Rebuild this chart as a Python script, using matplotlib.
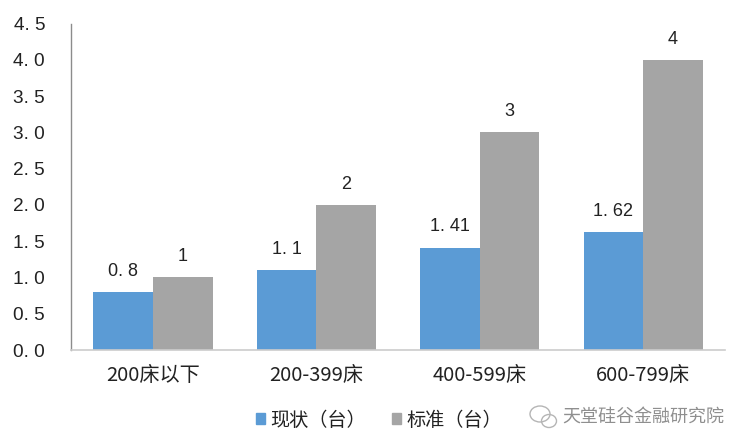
import matplotlib
matplotlib.use("Agg")
import matplotlib.pyplot as plt
from matplotlib.patches import Ellipse
import numpy as np

plt.rcParams['font.family'] = ['Noto Sans CJK SC', 'DejaVu Sans']

categories = ['200床以下', '200-399床', '400-599床', '600-799床']
current = [0.8, 1.1, 1.41, 1.62]
standard = [1, 2, 3, 4]
current_labels = ['0. 8', '1. 1', '1. 41', '1. 62']
standard_labels = ['1', '2', '3', '4']
yticks = [0.0, 0.5, 1.0, 1.5, 2.0, 2.5, 3.0, 3.5, 4.0, 4.5]
ytick_labels = ['0. 0', '0. 5', '1. 0', '1. 5', '2. 0', '2. 5', '3. 0', '3. 5', '4. 0', '4. 5']
series_names = ['现状（台）', '标准（台）']
watermark = '天堂硅谷金融研究院'

W, H = 748, 448
fig = plt.figure(figsize=(W/100, H/100), dpi=100)
ax = fig.add_axes([71.4/W, 1-350/H, 653.4/W, (350-23.6)/H])
x = np.arange(4)
bw = 0.365
ax.bar(x-bw/2, current, bw, color='#5b9bd5')
ax.bar(x+bw/2, standard, bw, color='#a5a5a5')
ax.set_xlim(-0.5, 3.5)
ax.set_ylim(0, 4.5)
latin = 'Liberation Sans'
for i in range(4):
    ax.text(x[i]-bw/2, current[i]+0.17, current_labels[i], ha='center', va='bottom',
            fontsize=13, color='#222222', fontfamily=latin)
    ax.text(x[i]+bw/2, standard[i]+0.17, standard_labels[i], ha='center', va='bottom',
            fontsize=13, color='#222222', fontfamily=latin)
ax.set_yticks(yticks)
ax.set_yticklabels(ytick_labels, fontsize=13.7, color='#222222', fontfamily=latin)
ax.set_xticks(x)
ax.set_xticklabels(categories, fontsize=14.5, color='#222222')
ax.tick_params(axis='y', length=0, pad=19)
ax.tick_params(axis='x', length=0, pad=11)
for s in ['top', 'right']:
    ax.spines[s].set_visible(False)
ax.spines['left'].set_color('#8c8c8c')
ax.spines['left'].set_linewidth(1.0)
ax.spines['bottom'].set_color('#cccccc')
ax.spines['bottom'].set_linewidth(1.2)

ax.legend(handles=[plt.Rectangle((0, 0), 1, 1, color='#5b9bd5'), plt.Rectangle((0, 0), 1, 1, color='#a5a5a5')],
          labels=series_names, loc='center', bbox_to_anchor=(379/W, 1-420/H), bbox_transform=fig.transFigure,
          ncol=2, frameon=False, fontsize=13.8, labelcolor='#222222', handlelength=0.47, handleheight=0.47,
          handletextpad=0.26, columnspacing=1.4, borderpad=0, borderaxespad=0)

# faint chat-bubble mark beside the watermark
for cx, cy, w, h in [(540, 414, 20, 16), (549, 421, 15, 13)]:
    fig.add_artist(Ellipse((cx/W, 1-cy/H), w/W, h/H, transform=fig.transFigure, fill=False,
                           edgecolor='#b5b5b5', linewidth=1.0))
fig.text(724/W, 1-417/H, watermark, ha='right', va='center', fontsize=13, color='#8f8f8f')
fig.savefig('out.png', dpi=100)
